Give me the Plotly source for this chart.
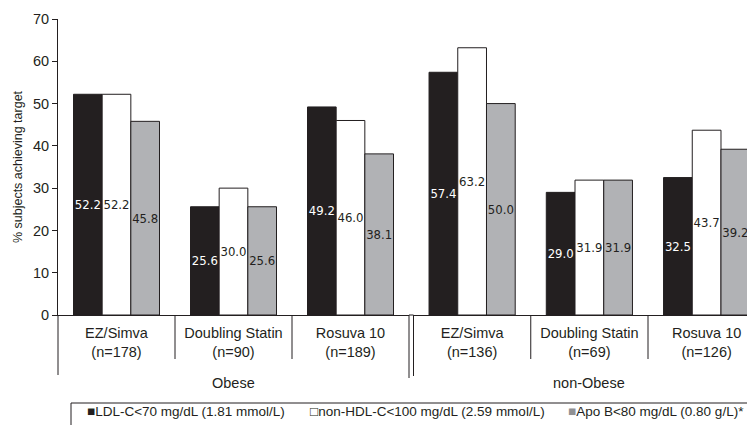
import plotly.graph_objects as go

# ---- data ----
groups = ["Obese", "non-Obese"]
cats_obese = ["EZ/Simva<br>(n=178)", "Doubling Statin<br>(n=90)", "Rosuva 10<br>(n=189)"]
cats_nonobese = ["EZ/Simva<br>(n=136)", "Doubling Statin<br>(n=69)", "Rosuva 10<br>(n=126)"]
series_names = ["LDL-C<70 mg/dL (1.81 mmol/L)",
                "non-HDL-C<100 mg/dL (2.59 mmol/L)",
                "Apo B<80 mg/dL (0.80 g/L)*"]
obese_ldl = [52.2, 25.6, 49.2]
obese_nonhdl = [52.2, 30.0, 46.0]
obese_apob = [45.8, 25.6, 38.1]
nonobese_ldl = [57.4, 29.0, 32.5]
nonobese_nonhdl = [63.2, 31.9, 43.7]
nonobese_apob = [50.0, 31.9, 39.2]
y_ticks = [0, 10, 20, 30, 40, 50, 60, 70]

# ---- style ----
INK = "#231f20"
fills = ["#231f20", "#ffffff", "#b1b2b5"]
text_colors = ["#ffffff", INK, INK]
FONT = "Liberation Sans, Arial, sans-serif"
NARROW = "Liberation Sans Narrow, Arial Narrow, DejaVu Sans Condensed, Liberation Sans, sans-serif"

# the page body has an 8px default margin: lay out in window pixels, minus that offset
OFF = 8
WIN_W, WIN_H = 755, 425
W, H = WIN_W - OFF, WIN_H - OFF
ML, MR, MT, MB = 58 - OFF, 0, 19 - OFF, WIN_H - 315
PW = W - ML - MR
PH = H - MT - MB

def px_x(p):  # window pixel -> paper x
    return (p - OFF - ML) / PW

def px_y(p):  # window pixel -> paper y
    return (H - MB - (p - OFF)) / PH

fig = go.Figure()
obese_vals = [obese_ldl, obese_nonhdl, obese_apob]
nonobese_vals = [nonobese_ldl, nonobese_nonhdl, nonobese_apob]
for i, name in enumerate(series_names):
    for cats, vals, xa in [(cats_obese, obese_vals[i], "x"), (cats_nonobese, nonobese_vals[i], "x2")]:
        fig.add_trace(go.Bar(
            x=cats, y=vals, name=name, xaxis=xa, yaxis="y",
            marker=dict(color=fills[i], line=dict(color=INK, width=1)),
            texttemplate="%{y:.1f}", textposition="inside", insidetextanchor="middle",
            textangle=0, constraintext="none",
            textfont=dict(family=NARROW, size=13, color=text_colors[i]),
            showlegend=False, legendgroup=name,
        ))

split0 = px_x(409)
split1 = px_x(413.5)
x2_end = -0.5 + (WIN_W - 413.5) / 117.25

axis_common = dict(showline=True, linecolor=INK, linewidth=1, ticks="",
                   tickfont=dict(family=FONT, size=14.5, color=INK), ticklabelstandoff=5,
                   showgrid=False, zeroline=False, type="category", fixedrange=True)

fig.update_layout(
    width=W, height=H,
    margin=dict(l=ML, r=MR, t=MT, b=MB),
    paper_bgcolor="white", plot_bgcolor="white",
    barmode="group", bargap=0.265, bargroupgap=0,
    font=dict(family=FONT, color=INK),
    xaxis=dict(domain=[0, split0], range=[-0.5, 2.5], anchor="y", **axis_common),
    xaxis2=dict(domain=[split1, 1], range=[-0.5, x2_end], anchor="y", **axis_common),
    yaxis=dict(range=[0, 70], tickvals=y_ticks, ticks="outside", ticklen=5, tickcolor=INK,
               showline=True, linecolor=INK, linewidth=1, showgrid=False, zeroline=False,
               tickfont=dict(family=FONT, size=14.5, color=INK),
               title=dict(text="% subjects achieving target",
                          font=dict(family=FONT, size=12.5, color=INK), standoff=7)),
)

line = dict(color=INK, width=1)
shapes = []
# y axis extension below zero
shapes.append(dict(type="line", xref="paper", yref="paper", x0=0, x1=0,
                   y0=0, y1=px_y(375), line=line))
# group boundary double line
shapes.append(dict(type="line", xref="x domain", yref="paper", x0=1, x1=1,
                   y0=0, y1=px_y(378), line=line))
shapes.append(dict(type="line", xref="x2 domain", yref="paper", x0=0, x1=0,
                   y0=0, y1=px_y(376), line=line))
# horizontal baseline across gap
shapes.append(dict(type="line", xref="paper", yref="paper", x0=split0, x1=split1,
                   y0=0, y1=0, line=line))
# category dividers
for xa in ["x", "x2"]:
    for b in [0.5, 1.5]:
        shapes.append(dict(type="line", xref=xa, yref="paper", x0=b, x1=b,
                           y0=0, y1=px_y(359), line=line))
# legend box
shapes.append(dict(type="rect", xref="paper", yref="paper",
                   x0=px_x(71), x1=1.05, y0=px_y(403), y1=px_y(440),
                   line=line, fillcolor="rgba(0,0,0,0)"))
fig.update_layout(shapes=shapes)

annotations = [
    dict(text=groups[0], xref="x", yref="paper", x=1, y=px_y(383), showarrow=False,
         font=dict(family=FONT, size=14.5, color=INK), xanchor="center", yanchor="middle"),
    dict(text=groups[1], xref="x2", yref="paper", x=1, y=px_y(383), showarrow=False,
         font=dict(family=FONT, size=14.5, color=INK), xanchor="center", yanchor="middle"),
]
legend_x = [85, 308, 566]
swatch = ["<span style='color:#231f20'>■</span>",
          "<span style='color:#231f20'>□</span>",
          "<span style='color:#8f9093'>■</span>"]
for i, name in enumerate(series_names):
    annotations.append(dict(text=swatch[i] + name.replace("<", "&lt;"), xref="paper", yref="paper",
                            x=px_x(legend_x[i]), y=px_y(411), showarrow=False,
                            xanchor="left", yanchor="middle",
                            font=dict(family=FONT, size=13.5, color=INK)))
fig.update_layout(annotations=annotations)

fig.write_html("out.html")
